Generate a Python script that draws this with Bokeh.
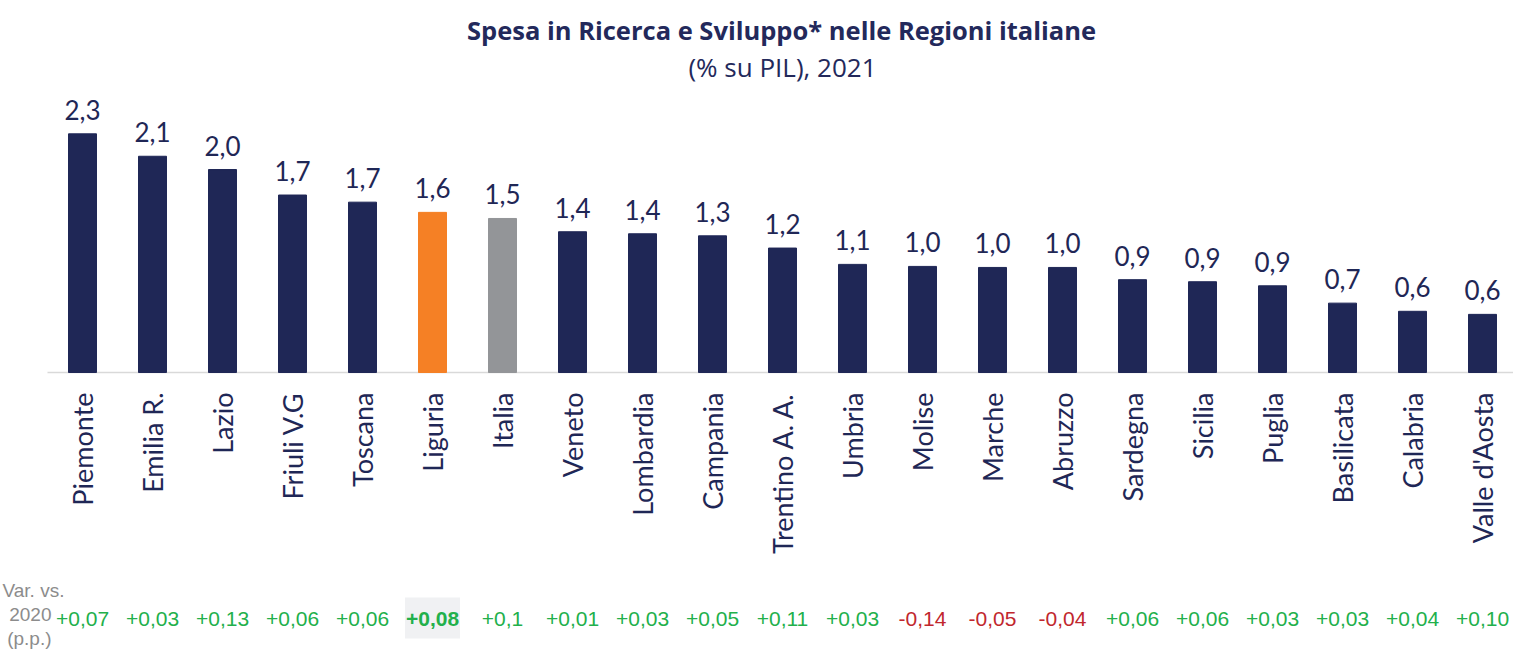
import math
from bokeh.plotting import figure
from bokeh.models import Range1d, ColumnDataSource
from bokeh.core.properties import value
from bokeh.embed import file_html
from bokeh.resources import INLINE

regions = ["Piemonte", "Emilia R.", "Lazio", "Friuli V.G", "Toscana", "Liguria", "Italia",
           "Veneto", "Lombardia", "Campania", "Trentino A. A.", "Umbria", "Molise", "Marche",
           "Abruzzo", "Sardegna", "Sicilia", "Puglia", "Basilicata", "Calabria", "Valle d'Aosta"]
spesa = [2.34, 2.12, 1.99, 1.74, 1.67, 1.57, 1.51, 1.38, 1.36, 1.34, 1.22, 1.06, 1.04, 1.03,
         1.03, 0.91, 0.89, 0.85, 0.68, 0.60, 0.57]
spesa_labels = ["2,3", "2,1", "2,0", "1,7", "1,7", "1,6", "1,5", "1,4", "1,4", "1,3", "1,2",
                "1,1", "1,0", "1,0", "1,0", "0,9", "0,9", "0,9", "0,7", "0,6", "0,6"]
var_2020 = [0.07, 0.03, 0.13, 0.06, 0.06, 0.08, 0.1, 0.01, 0.03, 0.05, 0.11, 0.03, -0.14,
            -0.05, -0.04, 0.06, 0.06, 0.03, 0.03, 0.04, 0.10]
var_labels = ["+0,07", "+0,03", "+0,13", "+0,06", "+0,06", "+0,08", "+0,1", "+0,01", "+0,03",
              "+0,05", "+0,11", "+0,03", "-0,14", "-0,05", "-0,04", "+0,06", "+0,06", "+0,03",
              "+0,03", "+0,04", "+0,10"]
var_title = ["Var. vs.", "2020", "(p.p.)"]
highlight = "Liguria"
reference = "Italia"

NAVY = "#1F2756"
ORANGE = "#F58025"
GREY = "#939598"
GREEN = "#22B04B"
RED = "#C1272D"

W, H = 1513, 652
OX, OY = 0, 0    # canvas origin on the screen
PX_X = 70.0      # pixels per category
PX_Y = 102.0     # pixels per unit of spesa
BASE = 372.0 - OY  # baseline, canvas px from top

x0 = -(82 - OX) / PX_X
x_range = Range1d(x0, x0 + W / PX_X)
y_range = Range1d(-(H - BASE) / PX_Y, BASE / PX_Y)

def ypx(screen_y):
    return (BASE - (screen_y - OY)) / PX_Y

def xpx(screen_x):
    return x0 + (screen_x - OX) / PX_X

p = figure(width=W, height=H, x_range=x_range, y_range=y_range,
           output_backend="svg", toolbar_location=None, min_border=0,
           background_fill_color="white", border_fill_color="white")
p.axis.visible = False
p.grid.visible = False
p.outline_line_color = None

idx = list(range(len(regions)))
colors = [ORANGE if r == highlight else (GREY if r == reference else NAVY) for r in regions]
vcolors = [GREEN if v >= 0 else RED for v in var_2020]
vstyle = ["bold" if r == highlight else "normal" for r in regions]

src = ColumnDataSource(dict(x=idx, region=regions, spesa=spesa, lab=spesa_labels,
                            lab_y=[v + 24 / PX_Y for v in spesa],
                            color=colors, var=var_labels, vcolor=vcolors, vstyle=vstyle))

# baseline
p.segment(x0=[-0.5], y0=[0], x1=[len(regions)], y1=[0], line_color="#D9D9D9", line_width=1.5)

p.vbar(x="x", top="spesa", bottom=0, width=28 / PX_X, source=src, fill_color="color",
       line_color="color")

p.text(x="x", y="lab_y", text="lab", source=src, text_align="center", text_baseline="alphabetic",
       text_font=value("Lato"), text_font_size="26px", text_color=NAVY)

p.text(x="x", y=ypx(392), text="region", source=src, angle=math.pi / 2, text_align="right",
       text_baseline="middle", text_font=value("Lato"), text_font_size="27px", text_color=NAVY)

hl = regions.index(highlight)
p.rect(x=[hl], y=[ypx(617.5)], width=55, height=41, width_units="screen", height_units="screen",
       fill_color="#F0F1F3", line_color=None)

p.text(x="x", y=ypx(618), text="var", source=src, text_align="center", text_baseline="middle",
       text_font=value("Liberation Sans"), text_font_size="21px", text_color="vcolor",
       text_font_style="vstyle")

p.text(x=[xpx(2)], y=[ypx(590)], text=[var_title[0]],
       text_align="left", text_baseline="middle", text_font=value("Liberation Sans"),
       text_font_size="19px", text_color="#8C8C8C")
p.text(x=[xpx(51)] * 2, y=[ypx(614), ypx(638)], text=var_title[1:],
       text_align="right", text_baseline="middle", text_font=value("Liberation Sans"),
       text_font_size="19px", text_color="#8C8C8C")

p.text(x=[xpx(781)], y=[ypx(29)], text=["Spesa in Ricerca e Sviluppo* nelle Regioni italiane"],
       text_align="center", text_baseline="middle", text_font=value("Open Sans"), text_font_style="bold",
       text_font_size="25.5px", text_color="#23295B")
p.text(x=[xpx(782)], y=[ypx(66)], text=["(% su PIL), 2021"],
       text_align="center", text_baseline="middle", text_font=value("Open Sans"),
       text_font_size="26px", text_color="#23295B")

open("out.html", "w").write(file_html(p, INLINE))
